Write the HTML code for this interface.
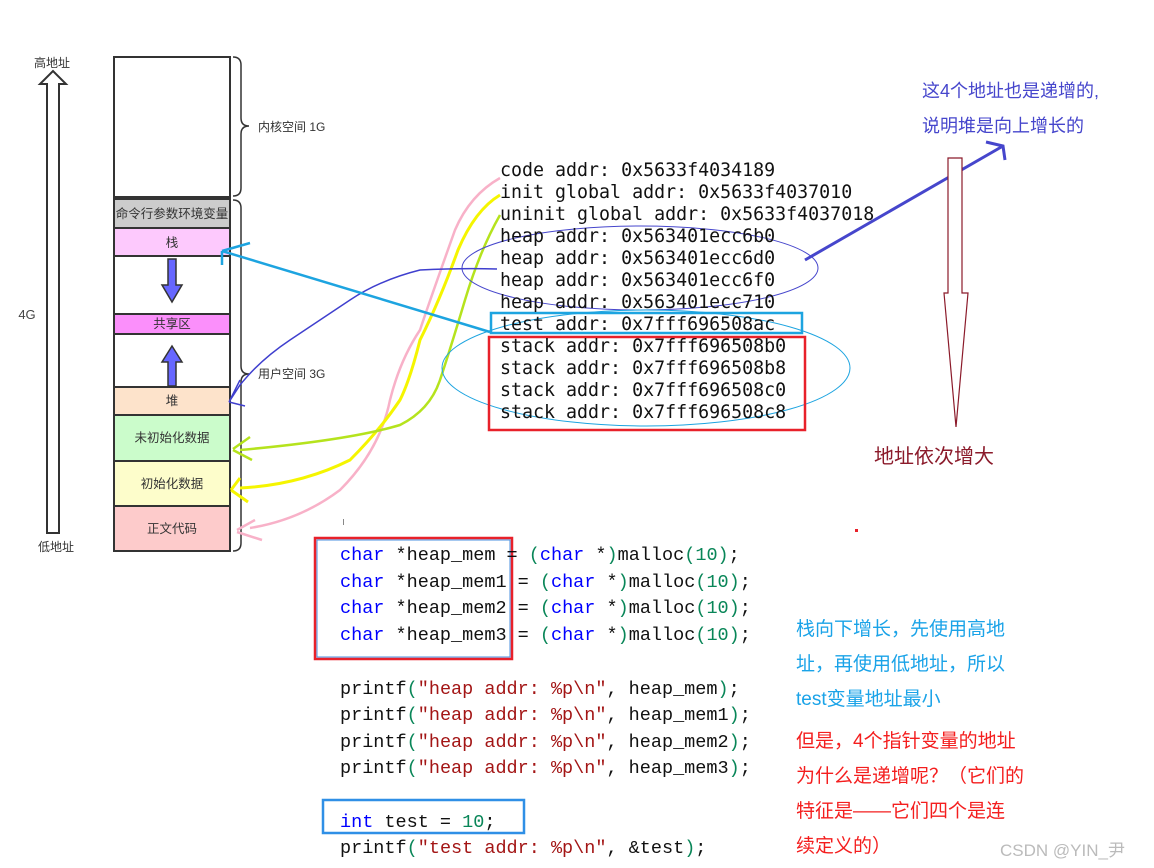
<!DOCTYPE html>
<html><head><meta charset="utf-8"><style>
html,body{margin:0;padding:0;background:#fff;}
body{width:1154px;height:868px;position:relative;overflow:hidden;}
svg{position:absolute;left:0;top:0;}
.cn{font-family:"Liberation Sans","Noto Sans CJK SC",sans-serif;}
.mono{font-family:"DejaVu Sans Mono","Liberation Mono",monospace;}
.code{font-family:"Liberation Mono","DejaVu Sans Mono",monospace;font-size:18.5px;}
</style></head><body>
<svg width="1154" height="868" viewBox="0 0 1154 868">
<path d="M47 533 L47 84 L40 84 L53 71 L66 84 L59 84 L59 533 Z" fill="#fff" stroke="#333" stroke-width="2"/>
<text x="52" y="67" class="cn" font-size="12" fill="#333" text-anchor="middle">高地址</text>
<text x="56" y="551" class="cn" font-size="12" fill="#333" text-anchor="middle">低地址</text>
<text x="27" y="319" class="cn" font-size="13" fill="#444" text-anchor="middle">4G</text>
<rect x="114" y="57" width="116" height="140" fill="#fff" stroke="#333" stroke-width="2"/>
<rect x="114" y="199" width="116" height="29" fill="#cccccc" stroke="#333" stroke-width="2"/>
<rect x="114" y="228" width="116" height="28" fill="#fdc9fd" stroke="#333" stroke-width="2"/>
<rect x="114" y="256" width="116" height="58" fill="#fff" stroke="#333" stroke-width="2"/>
<rect x="114" y="314" width="116" height="20" fill="#fb8ffb" stroke="#333" stroke-width="2"/>
<rect x="114" y="334" width="116" height="53" fill="#fff" stroke="#333" stroke-width="2"/>
<rect x="114" y="387" width="116" height="28" fill="#fde3cb" stroke="#333" stroke-width="2"/>
<rect x="114" y="415" width="116" height="46" fill="#cbfccb" stroke="#333" stroke-width="2"/>
<rect x="114" y="461" width="116" height="45" fill="#fdfdcb" stroke="#333" stroke-width="2"/>
<rect x="114" y="506" width="116" height="45" fill="#fdcbcb" stroke="#333" stroke-width="2"/>
<g class="cn" font-size="12.5" fill="#333" text-anchor="middle">
<text x="172" y="218">命令行参数环境变量</text>
<text x="172" y="247">栈</text>
<text x="172" y="328">共享区</text>
<text x="172" y="405">堆</text>
<text x="172" y="442">未初始化数据</text>
<text x="172" y="488">初始化数据</text>
<text x="172" y="533">正文代码</text>
</g>
<path d="M168 259 L176 259 L176 285 L182 285 L172 302 L162 285 L168 285 Z" fill="#6666ff" stroke="#333" stroke-width="1.5"/>
<path d="M168 386 L176 386 L176 362 L182 362 L172 346 L162 362 L168 362 Z" fill="#6666ff" stroke="#333" stroke-width="1.5"/>
<path d="M233 57 Q241 57 241 65 L241 118 Q241 126 249 126 Q241 126 241 134 L241 188 Q241 196 233 196" fill="none" stroke="#333" stroke-width="1.5"/>
<path d="M233 200 Q241 200 241 208 L241 366 Q241 374 249 374 Q241 374 241 382 L241 543 Q241 551 233 551" fill="none" stroke="#333" stroke-width="1.5"/>
<text x="258" y="131" class="cn" font-size="12" fill="#333">内核空间 1G</text>
<text x="258" y="378" class="cn" font-size="12" fill="#333">用户空间 3G</text>
<path d="M500 178 Q470 195 455 230 Q430 300 420 330 Q400 360 390 400 Q380 450 340 490 Q300 520 250 528 M237 530 L255 520 M237 532 L262 540" fill="none" stroke="#f8b1c8" stroke-width="2.5"/>
<path d="M500 195 Q475 210 458 250 Q440 300 420 340 Q410 380 400 400 Q380 430 350 460 Q300 485 240 488 M231 490 L240 478 M231 490 L248 502" fill="none" stroke="#f5f500" stroke-width="3"/>
<path d="M500 215 Q480 250 465 300 Q450 350 440 380 Q430 410 400 425 Q350 440 240 450 M233 449 L250 437 M233 450 L252 460" fill="none" stroke="#b5e31d" stroke-width="2.5"/>
<path d="M497 269 Q460 268 420 270 Q380 280 350 300 Q320 320 290 340 Q260 360 240 385 L229 402 M229 402 L240 380 M229 402 L245 406" fill="none" stroke="#3f3fce" stroke-width="1.5"/>
<path d="M490 332 L222 251 M222 251 L222 265 M222 251 L250 243" fill="none" stroke="#1da4e0" stroke-width="2.5"/>
<path d="M805 260 L1003 146 M986 142 L1003 146 L1005 160" fill="none" stroke="#4646cc" stroke-width="3"/>
<ellipse cx="640" cy="268" rx="178" ry="42" fill="none" stroke="#4646cc" stroke-width="1"/>
<ellipse cx="646" cy="368" rx="204" ry="58" fill="none" stroke="#1da4e0" stroke-width="1"/>
<rect x="491" y="313" width="311" height="20" fill="none" stroke="#1da4e0" stroke-width="2.5"/>
<rect x="489" y="337" width="316" height="93" fill="none" stroke="#e8212a" stroke-width="2.5"/>
<g class="mono" font-size="18.3" fill="#111">
<text x="500" y="176">code addr: 0x5633f4034189</text>
<text x="500" y="198">init global addr: 0x5633f4037010</text>
<text x="500" y="220">uninit global addr: 0x5633f4037018</text>
<text x="500" y="242">heap addr: 0x563401ecc6b0</text>
<text x="500" y="264">heap addr: 0x563401ecc6d0</text>
<text x="500" y="286">heap addr: 0x563401ecc6f0</text>
<text x="500" y="308">heap addr: 0x563401ecc710</text>
<text x="500" y="330">test addr: 0x7fff696508ac</text>
<text x="500" y="352">stack addr: 0x7fff696508b0</text>
<text x="500" y="374">stack addr: 0x7fff696508b8</text>
<text x="500" y="396">stack addr: 0x7fff696508c0</text>
<text x="500" y="418">stack addr: 0x7fff696508c8</text>
</g>
<path d="M948 158 L962 158 L962 293 L968 293 L956 427 L944 293 L948 293 Z" fill="#fff" stroke="#8b1a2a" stroke-width="1.2"/>
<text x="874" y="463" class="cn" font-size="20" fill="#8b1a2a">地址依次增大</text>
<text x="922" y="97" class="cn" font-size="18" fill="#4646cc">这4个地址也是递增的,</text>
<text x="922" y="132" class="cn" font-size="18" fill="#4646cc">说明堆是向上增长的</text>
<rect x="855" y="529" width="3" height="3" fill="#e8212a"/>
<rect x="343" y="519" width="1" height="6" fill="#888"/>
<rect x="315" y="538" width="197" height="121" fill="none" stroke="#e8212a" stroke-width="2.5"/>
<rect x="317" y="540" width="193" height="117" fill="none" stroke="#4a90e2" stroke-width="1"/>
<rect x="323" y="800" width="201" height="33" fill="none" stroke="#2f8fe6" stroke-width="2.5"/>
<g class="code" fill="#111">
<text x="340" y="560"><tspan fill="#0000ff">char</tspan> *heap_mem = <tspan fill="#098658">(</tspan><tspan fill="#0000ff">char</tspan> *<tspan fill="#098658">)</tspan>malloc<tspan fill="#098658">(10)</tspan>;</text>
<text x="340" y="587"><tspan fill="#0000ff">char</tspan> *heap_mem1 = <tspan fill="#098658">(</tspan><tspan fill="#0000ff">char</tspan> *<tspan fill="#098658">)</tspan>malloc<tspan fill="#098658">(10)</tspan>;</text>
<text x="340" y="613"><tspan fill="#0000ff">char</tspan> *heap_mem2 = <tspan fill="#098658">(</tspan><tspan fill="#0000ff">char</tspan> *<tspan fill="#098658">)</tspan>malloc<tspan fill="#098658">(10)</tspan>;</text>
<text x="340" y="640"><tspan fill="#0000ff">char</tspan> *heap_mem3 = <tspan fill="#098658">(</tspan><tspan fill="#0000ff">char</tspan> *<tspan fill="#098658">)</tspan>malloc<tspan fill="#098658">(10)</tspan>;</text>
<text x="340" y="694">printf<tspan fill="#098658">(</tspan><tspan fill="#a31515">"heap addr: %p\n"</tspan>, heap_mem<tspan fill="#098658">)</tspan>;</text>
<text x="340" y="720">printf<tspan fill="#098658">(</tspan><tspan fill="#a31515">"heap addr: %p\n"</tspan>, heap_mem1<tspan fill="#098658">)</tspan>;</text>
<text x="340" y="747">printf<tspan fill="#098658">(</tspan><tspan fill="#a31515">"heap addr: %p\n"</tspan>, heap_mem2<tspan fill="#098658">)</tspan>;</text>
<text x="340" y="773">printf<tspan fill="#098658">(</tspan><tspan fill="#a31515">"heap addr: %p\n"</tspan>, heap_mem3<tspan fill="#098658">)</tspan>;</text>
<text x="340" y="827"><tspan fill="#0000ff">int</tspan> test = <tspan fill="#098658">10</tspan>;</text>
<text x="340" y="853">printf<tspan fill="#098658">(</tspan><tspan fill="#a31515">"test addr: %p\n"</tspan>, &amp;test<tspan fill="#098658">)</tspan>;</text>
</g>
<g class="cn" font-size="19">
<text x="796" y="635" fill="#1aa3e8">栈向下增长，先使用高地</text>
<text x="796" y="670" fill="#1aa3e8">址，再使用低地址，所以</text>
<text x="796" y="705" fill="#1aa3e8">test变量地址最小</text>
<text x="796" y="747" fill="#f41e1e">但是，4个指针变量的地址</text>
<text x="796" y="782" fill="#f41e1e">为什么是递增呢？（它们的</text>
<text x="796" y="817" fill="#f41e1e">特征是——它们四个是连</text>
<text x="796" y="852" fill="#f41e1e">续定义的）</text>
</g>
<text x="1000" y="856" class="cn" font-size="17" fill="#bbb">CSDN @YIN_尹</text>
</svg>
</body></html>
